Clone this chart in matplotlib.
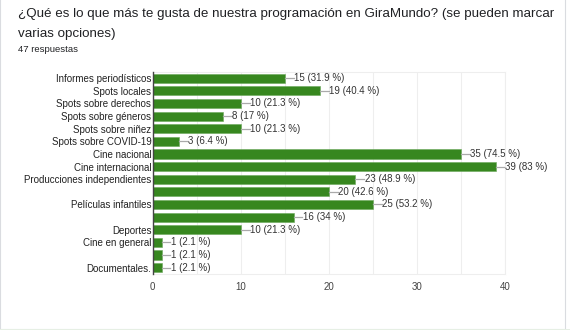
import matplotlib
matplotlib.use('Agg')
import matplotlib.pyplot as plt
import matplotlib.patches as patches

plt.rcParams['font.family'] = ['Liberation Sans', 'DejaVu Sans']

# data
categories = ['Informes periodísticos', 'Spots locales', 'Spots sobre derechos',
              'Spots sobre géneros', 'Spots sobre niñez', 'Spots sobre COVID-19',
              'Cine nacional', 'Cine internacional', 'Producciones independientes',
              '', 'Películas infantiles', '', 'Deportes', 'Cine en general', '',
              'Documentales.']
counts = [15, 19, 10, 8, 10, 3, 35, 39, 23, 20, 25, 16, 10, 1, 1, 1]
percents = ['31.9', '40.4', '21.3', '17', '21.3', '6.4', '74.5', '83', '48.9',
            '42.6', '53.2', '34', '21.3', '2.1', '2.1', '2.1']
xticks = [0, 10, 20, 30, 40]

green = '#37871f'

fig = plt.figure(figsize=(5.7, 3.3), dpi=100)
ax = fig.add_axes([0.268, 0.170, 0.618, 0.612])

ypos = list(range(len(categories)))
ax.barh(ypos, counts, height=0.72, color=green, edgecolor='#6aa85a', linewidth=0.4, zorder=3)

# value labels with a short connector line
for y, c, p in zip(ypos, counts, percents):
    ax.plot([c, c + 1.0], [y, y], color='#aaaaaa', linewidth=0.9, zorder=3)
    ax.text(c + 1.05, y, f'{c} ({p} %)', va='center', ha='left', fontsize=7.0,
            color='#333333', zorder=4)

ax.set_ylim(len(categories) - 0.5, -0.5)
ax.set_xlim(0, 40)
ax.set_yticks(ypos)
ax.set_yticklabels(categories, fontsize=7.0, color='#222222')
ax.set_xticks(xticks)
ax.set_xticklabels([str(t) for t in xticks], fontsize=7.0, color='#444444')
ax.tick_params(axis='both', length=0, pad=1)
ax.tick_params(axis='x', pad=6)

# faint grid every 5
for g in range(5, 41, 5):
    ax.axvline(g, color='#eeeeee', linewidth=0.8, zorder=0)

for s in ['top', 'right', 'bottom']:
    ax.spines[s].set_color('#eeeeee')
    ax.spines[s].set_linewidth(0.8)
ax.spines['left'].set_color('#444444')
ax.spines['left'].set_linewidth(1.0)
ax.spines['left'].set_zorder(5)

# titles
fig.text(18 / 570, 1 - 14 / 330, '¿Qué es lo que más te gusta de nuestra programación en GiraMundo? (se pueden marcar',
         fontsize=9.6, color='#202124', va='center', ha='left')
fig.text(18 / 570, 1 - 34 / 330, 'varias opciones)',
         fontsize=9.6, color='#202124', va='center', ha='left')
fig.text(18 / 570, 1 - 49 / 330, '47 respuestas', fontsize=6.8, color='#202124',
         va='center', ha='left')

# card edge
fig.add_artist(patches.Rectangle((0, 1.5 / 330), 565 / 570, 1, transform=fig.transFigure,
                                 fill=False, edgecolor='#dadce0', linewidth=0.8))
fig.add_artist(patches.Rectangle((0, 0), 1, 1.5 / 330, transform=fig.transFigure,
                                 facecolor='#e6efe4', edgecolor='none'))

fig.savefig('out.png', dpi=100)
